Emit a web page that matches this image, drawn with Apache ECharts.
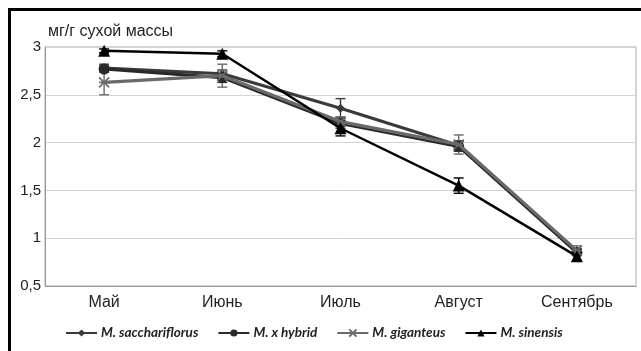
<!DOCTYPE html>
<html><head><meta charset="utf-8">
<script src="https://cdn.jsdelivr.net/npm/echarts@6/dist/echarts.min.js"></script>
<style>html,body{margin:0;padding:0;background:#fff}#c{width:641px;height:351px}</style>
</head><body><div id="c"></div>
<script>
var categories = ['Май', 'Июнь', 'Июль', 'Август', 'Сентябрь'];
var seriesNames = ['M. sacchariflorus', 'M. x hybrid', 'M. giganteus', 'M. sinensis'];
var sacchariflorus = [2.78, 2.72, 2.36, 1.97, 0.86];
var hybrid = [2.77, 2.68, 2.20, 1.96, 0.85];
var giganteus = [2.63, 2.70, 2.22, 1.98, 0.87];
var sinensis = [2.96, 2.93, 2.15, 1.55, 0.81];
var errSacchariflorus = [0.04, 0.04, 0.10, 0.05, 0.03];
var errHybrid = [0.03, 0.05, 0.05, 0.05, 0.03];
var errGiganteus = [0.13, 0.12, 0.05, 0.10, 0.05];
var errSinensis = [0.02, 0.03, 0.08, 0.08, 0.04];
var yTicks = ['0,5', '1', '1,5', '2', '2,5', '3'];

var values = [sacchariflorus, hybrid, giganteus, sinensis];
var errs = [errSacchariflorus, errHybrid, errGiganteus, errSinensis];
var colors = ['#3a3a3a', '#2a2a2a', '#6a6a6a', '#000000'];
var symbols = ['diamond', 'circle', 'path://M0,0L10,10M10,0L0,10M0,5L10,5', 'triangle'];
var symbolSizes = [9, 11, 10, 12];
var widths = [3.2, 3.2, 3.2, 2.4];

var chart = echarts.init(document.getElementById('c'), null, {renderer: 'canvas'});
var series = [];
values.forEach(function (v, k) {
  series.push({
    name: seriesNames[k], type: 'line', data: v,
    symbol: symbols[k], symbolSize: symbolSizes[k], showAllSymbol: true,
    lineStyle: {color: colors[k], width: widths[k]},
    itemStyle: {color: colors[k], borderColor: colors[k], borderWidth: k === 2 ? 1.6 : 0},
    z: 3 + k
  });
  var ed = v.map(function (val, i) { return [i, val - errs[k][i], val + errs[k][i]]; });
  series.push({
    type: 'custom', data: ed, z: 2 + k, silent: true,
    renderItem: function (params, api) {
      var lo = api.coord([api.value(0), api.value(1)]);
      var hi = api.coord([api.value(0), api.value(2)]);
      var w = 5;
      var st = {stroke: colors[k], lineWidth: 1.4};
      return {type: 'group', children: [
        {type: 'line', shape: {x1: lo[0], y1: lo[1], x2: hi[0], y2: hi[1]}, style: st},
        {type: 'line', shape: {x1: lo[0] - w, y1: lo[1], x2: lo[0] + w, y2: lo[1]}, style: st},
        {type: 'line', shape: {x1: hi[0] - w, y1: hi[1], x2: hi[0] + w, y2: hi[1]}, style: st}
      ]};
    }
  });
});

chart.setOption({
  animation: false,
  backgroundColor: '#fff',
  grid: {left: 45, right: 5, top: 47, bottom: 65, show: true, borderColor: '#aaa', borderWidth: 1},
  title: {text: 'мг/г сухой массы', left: 43, top: 19,
    textStyle: {fontFamily: 'Liberation Sans', fontSize: 16, fontWeight: 'normal', color: '#222'}},
  legend: {
    data: seriesNames, top: 321, left: 60, itemWidth: 31, itemHeight: 9, itemGap: 19,
    textStyle: {fontFamily: 'Lato', fontSize: 13.5, fontStyle: 'italic', fontWeight: 'bold', color: '#222', padding: [0, 0, 0, -1]}
  },
  xAxis: {
    type: 'category', data: categories, boundaryGap: true,
    axisLine: {lineStyle: {color: '#999'}}, axisTick: {show: false},
    axisLabel: {fontFamily: 'Liberation Sans', fontSize: 16, color: '#222', margin: 9}
  },
  yAxis: {
    type: 'value', min: 0.5, max: 3, interval: 0.5,
    axisLine: {show: true, lineStyle: {color: '#999'}}, axisTick: {show: false},
    splitLine: {lineStyle: {color: '#d4d4d4'}},
    axisLabel: {fontFamily: 'Liberation Sans', fontSize: 15, color: '#222', margin: 4,
      formatter: function (v) { var i = Math.round((v - 0.5) / 0.5); return yTicks[i]; }}
  },
  graphic: [{type: 'rect', shape: {x: 9.5, y: 9.5, width: 700, height: 400},
    style: {fill: 'none', stroke: '#000', lineWidth: 3}, z: 100}],
  series: series
});
</script></body></html>
